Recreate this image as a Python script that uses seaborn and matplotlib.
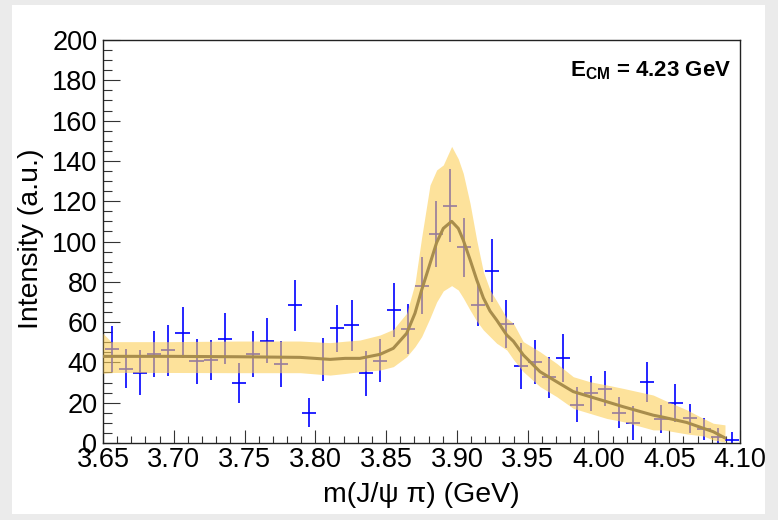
import numpy as np
import pandas as pd
import matplotlib
matplotlib.use("Agg")
import matplotlib.pyplot as plt
from matplotlib.patches import Rectangle
from matplotlib.ticker import MultipleLocator, FormatStrFormatter
import seaborn as sns

# Measured intensity per m(J/psi pi) bin, with statistical errors
mass = [3.6564, 3.6664, 3.6763, 3.6863, 3.6962, 3.7062, 3.7161, 3.7261, 3.7360,
        3.7460, 3.7559, 3.7659, 3.7758, 3.7858, 3.7957, 3.8057, 3.8156, 3.8256,
        3.8355, 3.8455, 3.8554, 3.8654, 3.8753, 3.8853, 3.8952, 3.9052, 3.9151,
        3.9251, 3.9350, 3.9450, 3.9549, 3.9649, 3.9748, 3.9848, 3.9947, 4.0047,
        4.0146, 4.0246, 4.0345, 4.0445, 4.0544, 4.0644, 4.0743, 4.0843, 4.0942]
intensity = [46.5, 36.8, 34.9, 44.3, 46.0, 54.8, 40.5, 41.2, 51.8,
             29.6, 44.3, 50.8, 39.4, 68.3, 15.0, 41.5, 56.9, 58.4,
             34.6, 40.9, 66.0, 56.7, 78.1, 103.6, 117.8, 97.1, 68.5,
             85.5, 58.9, 38.2, 40.4, 32.6, 42.2, 19.0, 24.6, 27.0,
             15.0, 9.8, 30.2, 11.8, 19.8, 12.2, 7.0, 3.2, 1.5]
intensity_err = [11.5, 9.7, 11.2, 11.5, 12.6, 12.7, 11.3, 10.1, 12.7,
                 9.9, 11.5, 11.2, 11.4, 12.7, 7.2, 10.6, 11.6, 12.6,
                 11.3, 10.8, 13.2, 12.3, 14.1, 16.3, 18.0, 14.5, 10.2,
                 15.7, 12.0, 11.4, 10.9, 10.3, 12.1, 8.7, 8.7, 8.5,
                 7.8, 8.4, 10.1, 7.0, 9.6, 7.2, 5.4, 4.0, 3.8]
bin_half_width = 0.005

# Fitted line shape and its uncertainty band
fit_mass = [3.6500, 3.6557, 3.6973, 3.7454, 3.7892, 3.8104, 3.8210, 3.8315,
            3.8457, 3.8551, 3.8645, 3.8704, 3.8751, 3.8810, 3.8857, 3.8904,
            3.8963, 3.9010, 3.9045, 3.9093, 3.9140, 3.9187, 3.9234, 3.9281,
            3.9352, 3.9399, 3.9469, 3.9587, 3.9705, 3.9822, 3.9940, 4.0058,
            4.0175, 4.0387, 4.0458, 4.0623, 4.0741, 4.0811, 4.0894]
fit_value = [43.0, 43.0, 43.0, 42.8, 42.5, 41.5, 42.0, 42.0,
             44.0, 47.0, 54.4, 64.4, 75.9, 89.0, 99.5, 106.5,
             110.0, 106.5, 100.7, 91.0, 81.0, 72.0, 65.5, 61.0,
             53.6, 50.5, 43.7, 35.4, 30.4, 25.5, 23.0, 20.5,
             18.0, 13.8, 12.8, 10.2, 7.3, 5.6, 2.5]
band_low = [34.6, 35.0, 35.0, 34.9, 34.9, 33.7, 34.5, 35.4,
            36.2, 37.9, 42.8, 47.8, 52.8, 62.0, 70.0, 75.5,
            78.1, 75.9, 72.0, 66.0, 60.5, 56.1, 52.8, 49.5,
            46.2, 41.5, 35.4, 28.0, 23.0, 17.2, 14.7, 12.2,
            10.6, 6.5, 6.5, 4.5, 3.5, 1.5, 0.5]
band_high = [54.4, 50.3, 50.3, 50.6, 50.6, 49.8, 50.5, 51.1,
             53.6, 56.4, 64.4, 79.2, 102.0, 128.0, 135.5, 138.0,
             147.2, 141.0, 133.8, 118.9, 100.7, 85.0, 75.9, 70.5,
             62.0, 59.4, 50.3, 45.3, 39.5, 32.9, 30.4, 28.8,
             27.1, 23.8, 21.5, 16.5, 12.2, 9.8, 9.0]

points = pd.DataFrame({"mass": mass, "intensity": intensity, "err": intensity_err})
fit = pd.DataFrame({"mass": fit_mass, "value": fit_value,
                    "low": band_low, "high": band_high})

sns.set_theme(style="ticks")
plt.rcParams["font.family"] = ["Liberation Sans", "DejaVu Sans"]
plt.rcParams["text.color"] = "black"
plt.rcParams["mathtext.fontset"] = "custom"
plt.rcParams["mathtext.rm"] = "Liberation Sans"
plt.rcParams["mathtext.bf"] = "Liberation Sans:bold"

fig = plt.figure(figsize=(7.78, 5.2), dpi=100)
fig.patch.set_facecolor("#ebebeb")
canvas_rect = Rectangle((12 / 778, 1 - 514 / 520), (765 - 12) / 778, (514 - 5) / 520,
                        transform=fig.transFigure, facecolor="white",
                        edgecolor="none", zorder=-5)
fig.add_artist(canvas_rect)
ax = fig.add_axes([103 / 778, 1 - 443 / 520, 637 / 778, 403 / 520])
ax.set_zorder(1)
ax.set_facecolor("white")

# data points with bin-width and statistical error bars
ax.errorbar(points["mass"], points["intensity"], yerr=points["err"],
            xerr=bin_half_width, fmt="none", ecolor="#0000ff",
            elinewidth=1.2, capsize=0, zorder=2)

# uncertainty band of the fit
ax.fill_between(fit["mass"], fit["low"], fit["high"], color="#fccf58",
                alpha=0.6, linewidth=0, zorder=3)

# fitted line shape
sns.lineplot(data=fit, x="mass", y="value", ax=ax, color="#a88d4c",
             linewidth=2.2, zorder=4)

ax.set_xlim(3.65, 4.10)
ax.set_ylim(0, 200)
ax.xaxis.set_major_locator(MultipleLocator(0.05))
ax.xaxis.set_minor_locator(MultipleLocator(0.01))
ax.xaxis.set_major_formatter(FormatStrFormatter("%.2f"))
ax.yaxis.set_major_locator(MultipleLocator(20))
ax.yaxis.set_minor_locator(MultipleLocator(5))

ax.tick_params(axis="both", which="both", direction="in", colors="#333333",
               labelcolor="black", width=0.8, top=False, right=False)
ax.tick_params(axis="y", which="major", length=12.5, labelsize=19.5, pad=4)
ax.tick_params(axis="y", which="minor", length=6.5)
ax.tick_params(axis="x", which="major", length=9.5, labelsize=19.5, pad=3)
ax.tick_params(axis="x", which="minor", length=5)
for side in ax.spines.values():
    side.set_visible(True)
    side.set_color("#222222")
    side.set_linewidth(1.0)

ax.set_xlabel("")
ax.set_ylabel("")
fig.text(421 / 778, 1 - 495 / 520, "m(J/\u03c8 \u03c0) (GeV)", ha="center",
         va="center", fontsize=20.5, color="black")
fig.text(31 / 778, 1 - 239 / 520, "Intensity (a.u.)", ha="center", va="center",
         rotation=90, fontsize=20.5, color="black")

ax.text(0.9854, 0.909, r"$\mathbf{E}_{\mathbf{CM}}$ = 4.23 GeV", transform=ax.transAxes,
        ha="right", va="baseline", fontsize=16, fontweight="bold", color="black")

fig.savefig("out.png", dpi=100, facecolor=fig.get_facecolor())
